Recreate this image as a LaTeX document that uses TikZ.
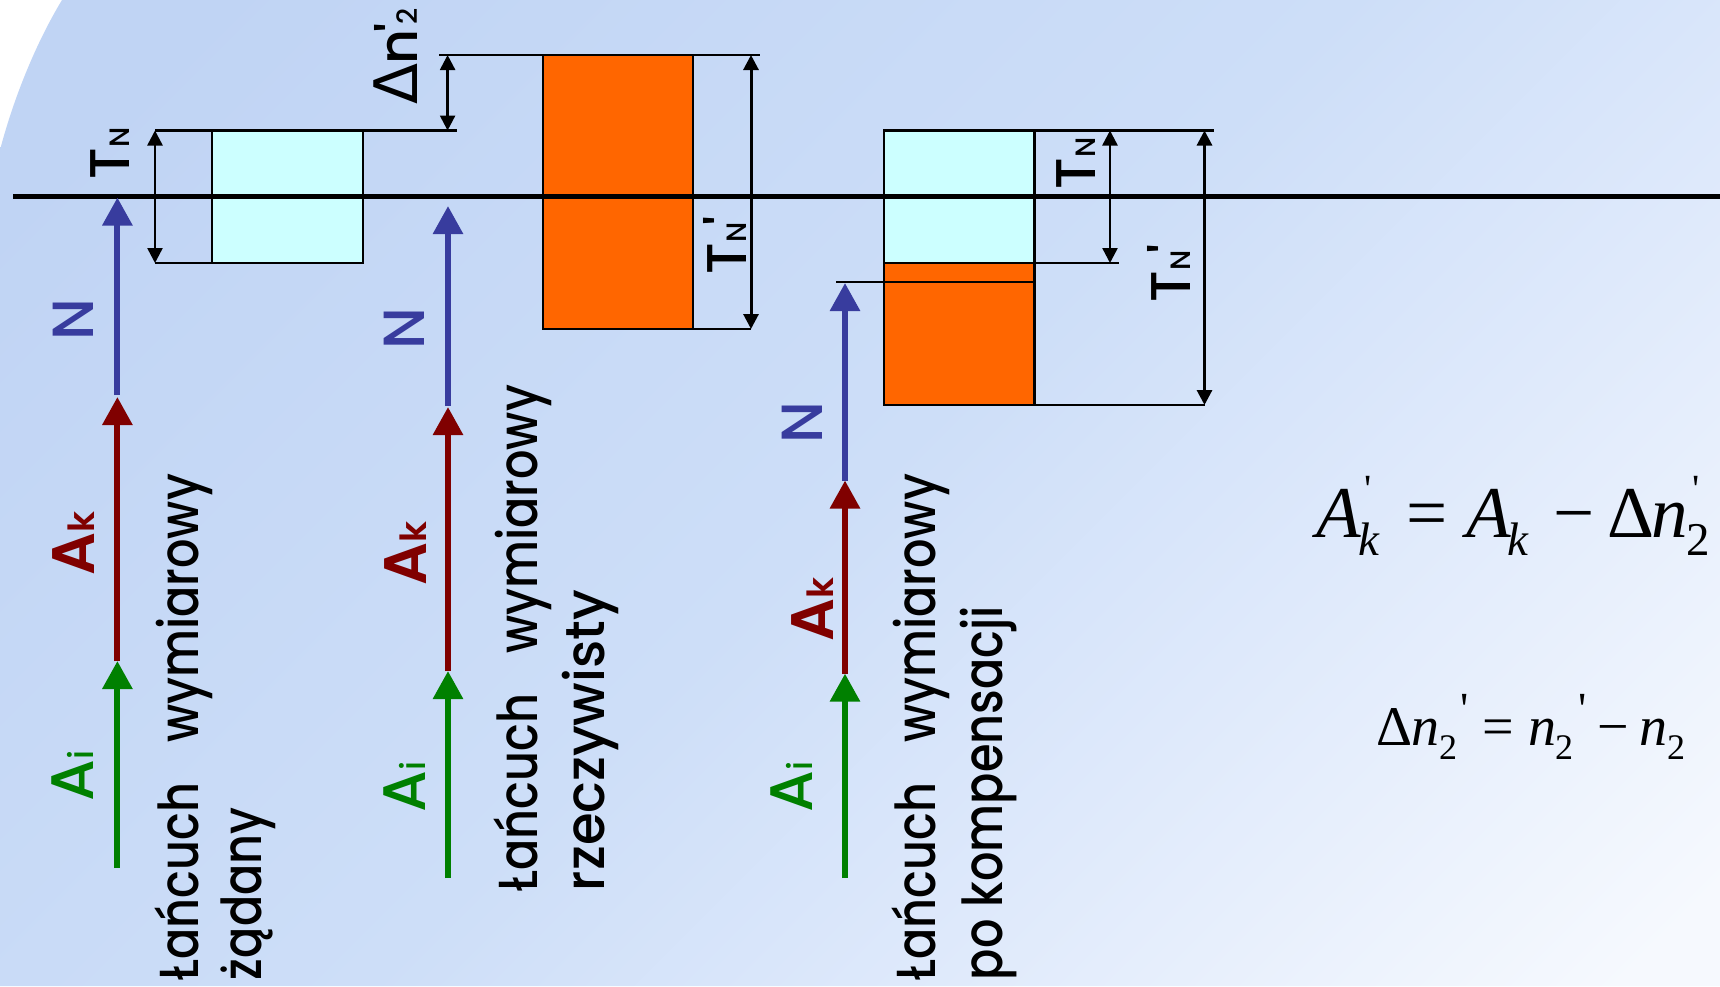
\documentclass[tikz,border=0pt]{standalone}
\usepackage{fontspec}
\setmainfont{Poppins}
\newfontfamily\capfont[FakeStretch=0.84]{Poppins Medium}
\newfontfamily\capwide[FakeStretch=0.96]{Poppins Medium}
\newfontfamily\labfont{Poppins Medium}
\newfontfamily\heavyfont{Poppins SemiBold}
\newfontfamily\deltafont{DejaVu Sans}
\newfontfamily\formfont{Liberation Serif}
\usetikzlibrary{arrows.meta}
\definecolor{chblue}{HTML}{383C9E}
\definecolor{chmaroon}{HTML}{800000}
\definecolor{chgreen}{HTML}{008000}
\definecolor{boxorange}{HTML}{FF6600}
\definecolor{boxcyan}{HTML}{CCFFFF}
\definecolor{bga}{HTML}{F6F9FE}
\definecolor{bgb}{HTML}{DEE9FB}
\definecolor{bgc}{HTML}{CDDEF8}
\definecolor{bgd}{HTML}{C0D4F4}
\pgfdeclareverticalshading{bgshade}{100bp}{color(0bp)=(bga); color(17bp)=(bga); color(36bp)=(bgb); color(50bp)=(bgc); color(80bp)=(bgd); color(100bp)=(bgd)}
\newcommand{\fsz}[1]{\fontsize{#1}{#1}\selectfont}
% a piece of a formula, placed at an offset from the start of the formula
\newcommand{\pc}[2]{\rlap{\hspace{#1pt}#2}}
\newcommand{\subp}[3]{\pc{#1}{\raisebox{#2pt}{#3}}}
\tikzset{
  x=0.5pt,y=-0.5pt,
  thinline/.style={line width=1.25pt,black},
  axisline/.style={line width=2.2pt,black},
  dim/.style={line width=1.25pt,black,{Triangle[length=7.5pt,width=7.5pt]}-{Triangle[length=7.5pt,width=7.5pt]}},
  dimthick/.style={dim,line width=1.5pt},
  chain/.style={line width=3pt,-{Triangle[length=14pt,width=14.5pt]}},
  cyanbox/.style={draw=black,fill=boxcyan,line width=1.25pt,inner sep=0pt,outer sep=0pt},
  orangebox/.style={draw=black,fill=boxorange,line width=1.25pt,inner sep=0pt,outer sep=0pt},
  lab/.style={rotate=90,anchor=base west,inner sep=0pt,outer sep=0pt},
  caption/.style={rotate=90,anchor=north west,inner sep=0pt,outer sep=0pt,align=left,font=\capfont\fsz{27.5}},
  form/.style={anchor=base west,inner sep=0pt,outer sep=0pt,text=black},
}
\begin{document}
\begin{tikzpicture}
\useasboundingbox (0,0) rectangle (1720,986);
% background
\fill[white] (0,0) rectangle (1720,986);
\shade[shading=bgshade,shading angle=45] (62,0) .. controls (36,43) and (14,97) .. (0,150) -- (0,986) -- (1720,986) -- (1720,0) -- cycle;

% boxes
\node[cyanbox,minimum width=75.5pt,minimum height=66.25pt] (box1) at (287.5,196.75) {};
\node[orangebox,minimum width=75pt,minimum height=137pt] (box2) at (618,192) {};
\node[orangebox,minimum width=75.25pt,minimum height=71pt] (box3o) at (959.25,334) {};
\node[cyanbox,minimum width=75.25pt,minimum height=66.25pt] (box3c) at (959.25,196.75) {};

% reference points
\coordinate (e1b) at (457,130.5);
\coordinate (e1c) at (155,263);
\coordinate (e2a) at (439,55);
\coordinate (e2b) at (760,55);
\coordinate (e2c) at (751,329);
\coordinate (e3a) at (1214,130.5);
\coordinate (e3b) at (1119,263);
\coordinate (e3c) at (1204.5,405);
\coordinate (e3d) at (836,282);
\coordinate (ax0) at (13,196.5);
\coordinate (ax1) at (1720,196.5);
\coordinate (d1t) at (155,130.5);
\coordinate (d1b) at (155,263);
\coordinate (d2t) at (447.6,55);
\coordinate (d2b) at (447.6,130.5);
\coordinate (d3t) at (751,55);
\coordinate (d3b) at (751,329);
\coordinate (d4t) at (1110,130.5);
\coordinate (d4b) at (1110,263);
\coordinate (d5t) at (1204.5,130.5);
\coordinate (d5b) at (1204.5,405);

% extension lines
\draw[thinline] (d1t) -- (box1.north west);
\draw[thinline] (box1.north east) -- (e1b);
\draw[thinline] (e1c) -- (box1.south west);
\draw[thinline] (e2a) -- (box2.north west);
\draw[thinline] (box2.north east) -- (e2b);
\draw[thinline] (box2.south east) -- (e2c);
\draw[thinline] (box3c.north east) -- (e3a);
\draw[thinline] (box3c.south east) -- (e3b);
\draw[thinline] (box3o.south east) -- (e3c);
\draw[thinline] (e3d) -- (box3o.east |- e3d);

% axis
\draw[axisline] (ax0) -- (ax1);

% dimension arrows
\draw[dim] (d1t) -- (d1b);
\draw[dim] (d2t) -- (d2b);
\draw[dimthick] (d3t) -- (d3b);
\draw[dim] (d4t) -- (d4b);
\draw[dimthick] (d5t) -- (d5b);

% chain 1
\coordinate (c1a) at (117.4,868);
\coordinate (c1b) at (117.4,661);
\coordinate (c1c) at (117.4,397);
\coordinate (c1d) at (117.4,395);
\coordinate (c1e) at (117.4,197.5);
\draw[chain,chgreen] (c1a) -- (c1b);
\draw[chain,chmaroon] (c1b) -- (c1c);
\draw[chain,chblue] (c1d) -- (c1e);
% chain 2
\coordinate (c2a) at (448,878);
\coordinate (c2b) at (448,671);
\coordinate (c2c) at (448,407);
\coordinate (c2d) at (448,406);
\coordinate (c2e) at (448,206);
\draw[chain,chgreen] (c2a) -- (c2b);
\draw[chain,chmaroon] (c2b) -- (c2c);
\draw[chain,chblue] (c2d) -- (c2e);
% chain 3
\coordinate (c3a) at (845,878);
\coordinate (c3b) at (845,673.6);
\coordinate (c3c) at (845,480.5);
\coordinate (c3e) at (845,283);
\draw[chain,chgreen] (c3a) -- (c3b);
\draw[chain,chmaroon] (c3b) -- (c3c);
\draw[chain,chblue] (c3c) -- (c3e);

% dimension labels
\node[lab,font=\labfont\fsz{28}] (t1) at (129.5,179) {T\fsz{14}N};
\node[lab,font=\labfont\fsz{27}] (dn) at (417,104) {{\deltafont\fsz{30}Δ}\kern-1pt n\kern-1.5pt{\fsz{27}'}\kern-0.5pt\fsz{14}2};
\node[lab,font=\labfont\fsz{28}] (t2) at (746,274) {T\fsz{14}N\kern-1.5pt\fsz{27}'};
\node[lab,font=\labfont\fsz{28}] (t3) at (1095,189) {T\fsz{14}N};
\node[lab,font=\labfont\fsz{28}] (t4) at (1190,302) {T\fsz{14}N\kern-1.5pt\fsz{27}'};

% chain labels
\node[lab,font=\labfont\fsz{29},text=chblue] (z1) at (93,340) {N};
\node[lab,font=\labfont\fsz{29},text=chblue] (z2) at (424,349) {N};
\node[lab,font=\labfont\fsz{29},text=chblue] (z3) at (822,443) {N};
\node[lab,font=\heavyfont\fsz{30},text=chmaroon] (k1) at (94,575) {A\fsz{18}k};
\node[lab,font=\heavyfont\fsz{30},text=chmaroon] (k2) at (426,585) {A\fsz{18}k};
\node[lab,font=\heavyfont\fsz{30},text=chmaroon] (k3) at (833,641) {A\fsz{18}k};
\node[lab,font=\labfont\fsz{30},text=chgreen] (i1) at (93,801) {A\fsz{17}i};
\node[lab,font=\labfont\fsz{30},text=chgreen] (i2) at (425,812) {A\fsz{17}i};
\node[lab,font=\labfont\fsz{30},text=chgreen] (i3) at (812,812) {A\fsz{17}i};

% captions
\node[caption] (cap1) at (155,980) {Łańcuch\hspace{20pt}wymiarowy\\[4pt]żądany};
\node[caption] (cap2) at (494,891) {Łańcuch\hspace{20pt}wymiarowy\\[4pt]{\capwide rzeczywisty}};
\node[caption] (cap3) at (892,980) {Łańcuch\hspace{20pt}wymiarowy\\[4pt]po kompensacji};

% formulas
\node[form,font=\formfont\fsz{36.5}] (f1) at (1313,537)
  {\pc{1}{\textit{A}}\subp{22}{-9}{\fsz{23.5}\textit{k}}\subp{25}{17.5}{\fsz{20}'}\pc{46}{=}\pc{76}{\textit{A}}\subp{96.5}{-9}{\fsz{23.5}\textit{k}}\pc{119.5}{−}\pc{147}{Δ}\pc{168.5}{\textit{n}}\subp{186}{-9}{\fsz{23.5}2}\subp{189}{17.5}{\fsz{20}'}\hspace{198pt}};
\node[form,font=\formfont\fsz{28}] (f2) at (1375,745)
  {\pc{0}{Δ}\pc{17.5}{\textit{n}}\subp{31.5}{-7}{\fsz{18}2}\subp{42}{10.5}{\fsz{23}'}\pc{53}{=}\pc{76}{\textit{n}}\subp{89.5}{-7}{\fsz{18}2}\subp{101}{10.5}{\fsz{23}'}\pc{110.5}{−}\pc{131.5}{\textit{n}}\subp{145.5}{-7}{\fsz{18}2}\hspace{154pt}};
\end{tikzpicture}
\end{document}
